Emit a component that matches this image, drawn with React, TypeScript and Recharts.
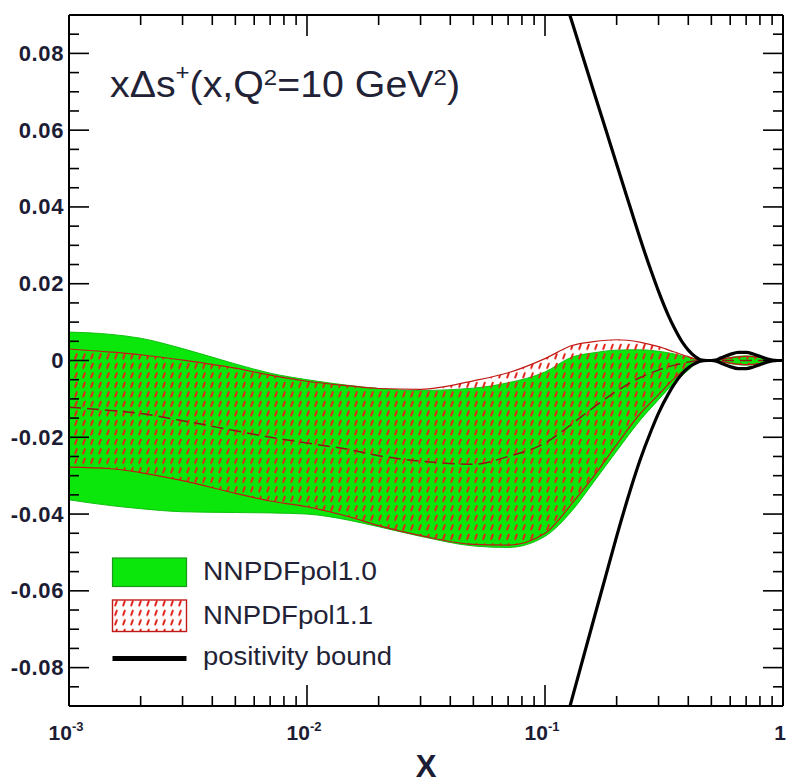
import React from 'react';
import { ComposedChart, Area, Line, XAxis, YAxis } from 'recharts';

// ---------------- data ----------------
const xGrid = [0.001, 0.0015, 0.002, 0.003, 0.005, 0.007, 0.01, 0.015, 0.02, 0.03, 0.05, 0.07, 0.1, 0.13, 0.16, 0.2, 0.25, 0.3, 0.35, 0.4, 0.45, 0.5, 0.55, 0.6, 0.7, 0.8, 0.9, 1.0];

const pol10High = [0.0074, 0.0068, 0.0058, 0.0031, -0.0009, -0.0033, -0.005, -0.0065, -0.0073, -0.0078, -0.0072, -0.0058, -0.003, 0.0009, 0.002, 0.0027, 0.0028, 0.0024, 0.0017, 0.0008, 0.0001, 0.0, 0.0003, 0.0008, 0.0012, 0.0009, 0.0002, 0.0];
const pol10Low = [-0.0363, -0.0378, -0.0386, -0.0394, -0.0396, -0.0397, -0.04, -0.0416, -0.0433, -0.0458, -0.0483, -0.0487, -0.0458, -0.0391, -0.0317, -0.0236, -0.0157, -0.0102, -0.0057, -0.0025, -0.0002, 0.0, -0.0003, -0.0008, -0.0012, -0.0009, -0.0002, 0.0];

const pol11High = [0.003, 0.0022, 0.0015, 0.0001, -0.002, -0.0038, -0.0054, -0.0066, -0.0073, -0.0075, -0.0053, -0.0032, 0.0005, 0.0039, 0.0049, 0.0054, 0.0048, 0.0036, 0.0022, 0.001, 0.0001, 0.0, 0.0003, 0.0007, 0.0011, 0.0008, 0.0002, 0.0];
const pol11Low = [-0.0278, -0.0282, -0.0292, -0.0313, -0.0346, -0.0366, -0.0381, -0.0407, -0.043, -0.0456, -0.0479, -0.0481, -0.045, -0.0372, -0.0302, -0.0219, -0.014, -0.0089, -0.0046, -0.0018, -0.0001, 0.0, -0.0003, -0.0007, -0.0011, -0.0008, -0.0002, 0.0];
const pol11Central = [-0.0122, -0.013, -0.0138, -0.0157, -0.0183, -0.02, -0.0215, -0.0232, -0.0248, -0.0262, -0.027, -0.025, -0.0215, -0.0165, -0.0122, -0.008, -0.0045, -0.0025, -0.0012, -0.0004, 0.0, 0.0, 0.0, 0.0, 0.0, 0.0, 0.0, 0.0];

const xBound = [0.11, 0.12, 0.13, 0.14, 0.16, 0.18, 0.2, 0.23, 0.25, 0.28, 0.3, 0.33, 0.35, 0.38, 0.4, 0.43, 0.45, 0.48, 0.5, 0.52, 0.55, 0.6, 0.65, 0.7, 0.75, 0.8, 0.85, 0.9, 0.95, 1.0];
const boundUpper = [0.1023, 0.0949, 0.0881, 0.0817, 0.0702, 0.0602, 0.0511, 0.0392, 0.0321, 0.0231, 0.018, 0.0117, 0.0084, 0.0045, 0.0027, 0.0009, 0.0002, 0.0, 0.0, 0.0001, 0.0007, 0.0016, 0.0021, 0.0021, 0.0017, 0.0011, 0.0005, 0.0001, 0.0, 0.0];
const boundLower = [-0.1043, -0.0959, -0.088, -0.0807, -0.0676, -0.0561, -0.0458, -0.0331, -0.0262, -0.0181, -0.0137, -0.0087, -0.0061, -0.0032, -0.0019, -0.0007, -0.0002, 0.0, 0.0, -0.0001, -0.0007, -0.0016, -0.0021, -0.0021, -0.0017, -0.0011, -0.0005, -0.0001, 0.0, 0.0];

// tick labels
const xMajorValues = [0.001, 0.01, 0.1, 1];
const xMajorBase = ['10', '10', '10', '1'];
const xMajorExp = ['-3', '-2', '-1', ''];
const yMajorValues = [-0.08, -0.06, -0.04, -0.02, 0, 0.02, 0.04, 0.06, 0.08];
const yMajorLabels = ['-0.08', '-0.06', '-0.04', '-0.02', '0', '0.02', '0.04', '0.06', '0.08'];

const legendLabels = ['NNPDFpol1.0', 'NNPDFpol1.1', 'positivity bound'];
const axisTitle = 'X';

// ---------------- derived tables ----------------
const bandData = xGrid.map((x, i) => ({
  x,
  pol10: [pol10Low[i], pol10High[i]],
  pol11: [pol11Low[i], pol11High[i]],
  central: pol11Central[i],
}));
const boundData = xBound.map((x, i) => ({ x, upper: boundUpper[i], lower: boundLower[i] }));

const xTicks: number[] = [];
[0.001, 0.01, 0.1].forEach((d) => {
  for (let m = 1; m <= 9; m++) xTicks.push(Number((m * d).toPrecision(6)));
});
xTicks.push(1);
const yTicks: number[] = Array.from({ length: 35 }, (_, i) => Math.round((-0.085 + i * 0.005) * 1000) / 1000);

// ---------------- styling ----------------
const FONT = '"Liberation Sans", Arial, Helvetica, sans-serif';
const LABEL_COLOR = '#1c1c34';
const GREEN = '#0be60b';
const RED = '#e3241a';

const xIndex = (v: number) => xMajorValues.findIndex((m) => Math.abs(m - v) / m < 1e-6);
const yIndex = (v: number) => yMajorValues.findIndex((m) => Math.abs(m - v) < 1e-6);

const BottomTick = (p: any) => {
  const { x, y, payload } = p;
  const idx = xIndex(payload.value);
  const major = idx >= 0;
  return (
    <g>
      <line x1={x} y1={y} x2={x} y2={y - (major ? 21 : 10)} stroke="#000" strokeWidth={1.6} />
      {major && (
        <text x={x - 3} y={y + 34} textAnchor="middle" fontFamily={FONT} fontWeight="bold" fontSize={21} fill={LABEL_COLOR}>
          {xMajorBase[idx]}
          {xMajorExp[idx] ? (
            <tspan dy={-9} fontSize={13}>
              {xMajorExp[idx]}
            </tspan>
          ) : null}
        </text>
      )}
    </g>
  );
};

const TopTick = (p: any) => {
  const { x, y, payload } = p;
  const major = xIndex(payload.value) >= 0;
  return <line x1={x} y1={y} x2={x} y2={y + (major ? 21 : 10)} stroke="#000" strokeWidth={1.6} />;
};

const LeftTick = (p: any) => {
  const { x, y, payload } = p;
  const idx = yIndex(payload.value);
  const major = idx >= 0;
  return (
    <g>
      <line x1={x} y1={y} x2={x + (major ? 20 : 10)} y2={y} stroke="#000" strokeWidth={1.6} />
      {major && (
        <text
          x={x - 5}
          y={y}
          dy={7.5}
          textAnchor="end"
          fontFamily={FONT}
          fontWeight="bold"
          fontSize={22}
          letterSpacing={0.6}
          fill={LABEL_COLOR}
        >
          {yMajorLabels[idx]}
        </text>
      )}
    </g>
  );
};

const RightTick = (p: any) => {
  const { x, y, payload } = p;
  const major = yIndex(payload.value) >= 0;
  return <line x1={x} y1={y} x2={x - (major ? 20 : 10)} y2={y} stroke="#000" strokeWidth={1.6} />;
};

export default function App() {
  return (
    <div style={{ width: 788, height: 783, background: '#fff' }}>
      <style>{'body{margin:0;overflow:hidden;background:#fff}'}</style>
      <ComposedChart width={788} height={783} margin={{ top: 14, right: 4, bottom: 0, left: 0 }}>
        <defs>
          <pattern id="hatch11" patternUnits="userSpaceOnUse" width="8" height="9.5">
            <path d="M3.2 7.1 L4.8 2.7" stroke={RED} strokeWidth={2} strokeLinecap="round" />
          </pattern>
        </defs>
        <XAxis
          xAxisId="b"
          dataKey="x"
          type="number"
          scale="log"
          domain={[0.001, 1]}
          allowDataOverflow
          ticks={xTicks}
          interval={0}
          tickSize={0}
          tickMargin={0}
          tickLine={false}
          tick={(p: any) => <BottomTick {...p} />}
          axisLine={{ stroke: '#000', strokeWidth: 2 }}
          height={77}
          orientation="bottom"
          label={{
            value: axisTitle,
            position: 'insideBottom',
            offset: 6,
            style: { fontFamily: FONT, fontWeight: 'bold', fontSize: 31, fill: LABEL_COLOR },
          }}
        />
        <XAxis
          xAxisId="t"
          dataKey="x"
          type="number"
          scale="log"
          domain={[0.001, 1]}
          allowDataOverflow
          ticks={xTicks}
          interval={0}
          tickSize={0}
          tickMargin={0}
          tickLine={false}
          tick={(p: any) => <TopTick {...p} />}
          axisLine={{ stroke: '#000', strokeWidth: 2 }}
          height={1}
          orientation="top"
        />
        <YAxis
          yAxisId="l"
          type="number"
          domain={[-0.09, 0.09]}
          allowDataOverflow
          ticks={yTicks}
          interval={0}
          tickSize={0}
          tickMargin={0}
          tickLine={false}
          tick={(p: any) => <LeftTick {...p} />}
          axisLine={{ stroke: '#000', strokeWidth: 2 }}
          width={69}
          orientation="left"
        />
        <YAxis
          yAxisId="r"
          type="number"
          domain={[-0.09, 0.09]}
          allowDataOverflow
          ticks={yTicks}
          interval={0}
          tickSize={0}
          tickMargin={0}
          tickLine={false}
          tick={(p: any) => <RightTick {...p} />}
          axisLine={{ stroke: '#000', strokeWidth: 2 }}
          width={1}
          orientation="right"
        />

        <Area
          xAxisId="b"
          yAxisId="l"
          data={bandData}
          dataKey="pol10"
          type="monotone"
          fill={GREEN}
          fillOpacity={1}
          stroke="#10c010"
          strokeWidth={1}
          isAnimationActive={false}
        />
        <Area
          xAxisId="b"
          yAxisId="l"
          data={bandData}
          dataKey="pol11"
          type="monotone"
          fill="url(#hatch11)"
          fillOpacity={1}
          stroke="#c01a16"
          strokeWidth={1.2}
          isAnimationActive={false}
        />
        <Line
          xAxisId="b"
          yAxisId="l"
          data={bandData}
          dataKey="central"
          type="monotone"
          stroke="#8c1a14"
          strokeWidth={1.5}
          strokeDasharray="12 6"
          dot={false}
          activeDot={false}
          isAnimationActive={false}
        />
        <Line
          xAxisId="b"
          yAxisId="l"
          data={boundData}
          dataKey="upper"
          type="monotone"
          stroke="#000"
          strokeWidth={3.2}
          dot={false}
          activeDot={false}
          isAnimationActive={false}
        />
        <Line
          xAxisId="b"
          yAxisId="l"
          data={boundData}
          dataKey="lower"
          type="monotone"
          stroke="#000"
          strokeWidth={3.2}
          dot={false}
          activeDot={false}
          isAnimationActive={false}
        />

        <text x={110} y={97} fontFamily={FONT} fontSize={36} fill="#222236" textLength={350} lengthAdjust="spacingAndGlyphs">
          {'x\u0394s'}
          <tspan dy={-17} fontSize={22}>+</tspan>
          <tspan dy={17}>(x,Q</tspan>
          <tspan dy={-12} fontSize={22}>2</tspan>
          <tspan dy={12}>=10 GeV</tspan>
          <tspan dy={-12} fontSize={22}>2</tspan>
          <tspan dy={12}>)</tspan>
        </text>

        <g>
          <rect x={112.5} y={558} width={74} height={28.5} fill={GREEN} stroke="#1a9a1a" strokeWidth={1.2} />
          <rect x={112.5} y={600} width={74} height={31.5} fill="url(#hatch11)" stroke="#c01a16" strokeWidth={1.4} />
          <line x1={112.5} x2={186.5} y1={658.5} y2={658.5} stroke="#000" strokeWidth={5} />
          <text x={203} y={580} fontFamily={FONT} fontSize={26} fill="#222236" textLength={174} lengthAdjust="spacingAndGlyphs">
            {legendLabels[0]}
          </text>
          <text x={203} y={624} fontFamily={FONT} fontSize={26} fill="#222236" textLength={170} lengthAdjust="spacingAndGlyphs">
            {legendLabels[1]}
          </text>
          <text x={203} y={665} fontFamily={FONT} fontSize={26} fill="#222236" textLength={189} lengthAdjust="spacingAndGlyphs">
            {legendLabels[2]}
          </text>
        </g>
      </ComposedChart>
    </div>
  );
}
